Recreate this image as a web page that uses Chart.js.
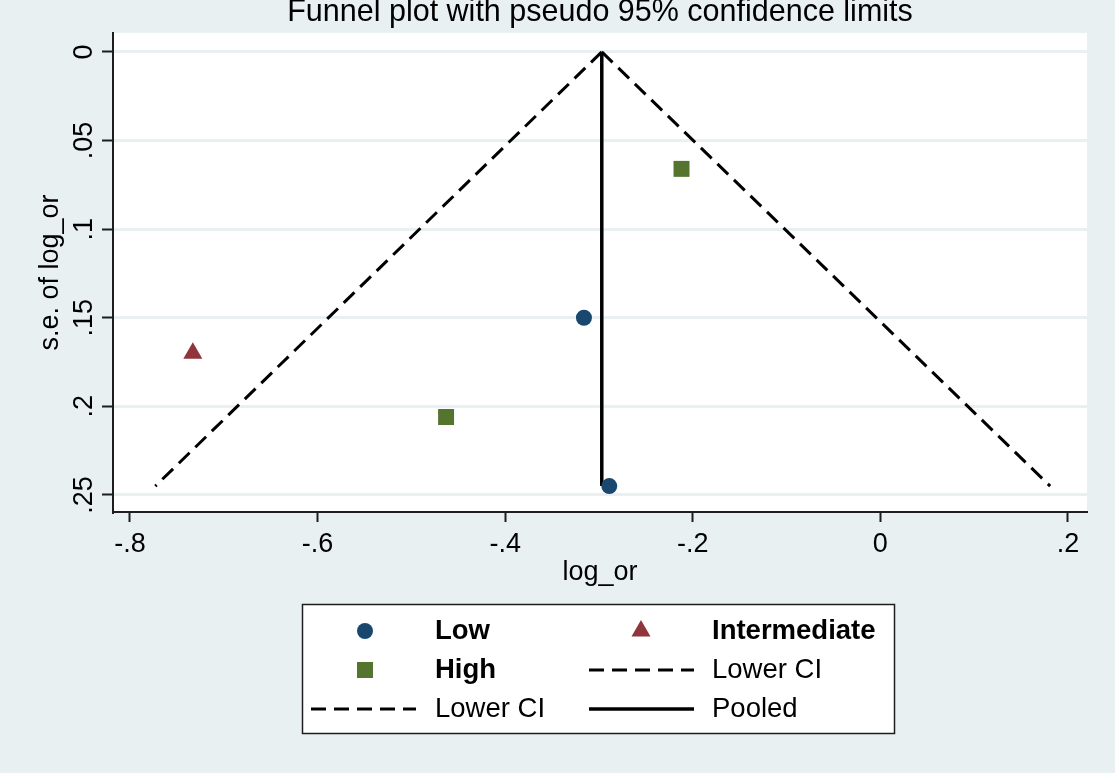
<!DOCTYPE html>
<html>
<head>
<meta charset="utf-8">
<script src="https://cdn.jsdelivr.net/npm/chart.js@4/dist/chart.umd.min.js"></script>
<style>
  html, body { margin: 0; padding: 0; background: #e9f0f1; }
  canvas { display: block; }
</style>
</head>
<body>
<canvas id="c" width="1115" height="773"></canvas>
<script>
// ---- Data ----
const lowX = [-0.316, -0.289];
const lowSE = [0.150, 0.245];
const intermediateX = [-0.733];
const intermediateSE = [0.170];
const highX = [-0.463, -0.212];
const highSE = [0.206, 0.066];
const funnelSE = [0, 0.245];
const lowerCIX = [-0.297, -0.773];
const upperCIX = [-0.297, 0.181];
const pooledX = [-0.297, -0.297];
const xTickValues = [-0.8, -0.6, -0.4, -0.2, 0, 0.2];
const yTickValues = [0, 0.05, 0.1, 0.15, 0.2, 0.25];
const seriesLabels = ['Low', 'Intermediate', 'High', 'Lower CI', 'Lower CI', 'Pooled'];

const FONT = "'Liberation Sans', Arial, Helvetica, sans-serif";
const BG = '#e9f0f1';
const AXIS = '#1e1e1e';

function pts(xs, ys) { return xs.map((x, i) => ({ x: x, y: ys[i] })); }
function stataFmt(v) {
  if (Math.abs(v) < 1e-9) return '0';
  let s = String(+v.toFixed(3));
  return s.replace(/^(-?)0\./, '$1.');
}

const bgPlugin = {
  id: 'bg',
  beforeDraw(chart) {
    const { ctx, chartArea: a } = chart;
    ctx.save();
    ctx.fillStyle = BG;
    ctx.fillRect(0, 0, chart.width, chart.height);
    ctx.fillStyle = '#ffffff';
    ctx.fillRect(a.left, a.top, a.right - a.left, a.bottom - a.top);
    ctx.restore();
  }
};

const yLabelPlugin = {
  id: 'yRotLabels',
  afterDraw(chart) {
    const { ctx } = chart;
    const ys = chart.scales.y;
    ctx.save();
    ctx.fillStyle = '#000';
    ctx.font = '27px ' + FONT;
    ctx.textAlign = 'center';
    ctx.textBaseline = 'middle';
    ys.ticks.forEach(t => {
      const py = ys.getPixelForValue(t.value);
      ctx.save();
      ctx.translate(85, py);
      ctx.rotate(-Math.PI / 2);
      ctx.fillText(stataFmt(t.value), 0, 0);
      ctx.restore();
    });
    ctx.restore();
  }
};

function drawMarker(ctx, style, x, y, r, color) {
  ctx.fillStyle = color;
  ctx.beginPath();
  if (style === 'circle') {
    ctx.arc(x, y, r, 0, Math.PI * 2);
  } else if (style === 'triangle') {
    for (let k = 0; k < 3; k++) {
      const ang = k * 2 * Math.PI / 3;
      const px = x + Math.sin(ang) * r, py = y - Math.cos(ang) * r;
      if (k === 0) ctx.moveTo(px, py); else ctx.lineTo(px, py);
    }
    ctx.closePath();
  } else {
    const s = r * Math.SQRT1_2;
    ctx.rect(x - s, y - s, 2 * s, 2 * s);
  }
  ctx.fill();
}

const legendPlugin = {
  id: 'stataLegend',
  afterDraw(chart) {
    const ctx = chart.ctx;
    ctx.save();
    ctx.fillStyle = '#ffffff';
    ctx.fillRect(302, 604, 593, 130);
    ctx.strokeStyle = AXIS;
    ctx.lineWidth = 1.5;
    ctx.strokeRect(302.5, 604.5, 592, 129);
    const cols = [
      { marker: 365, line: [311, 416], text: 435 },
      { marker: 641, line: [589, 694], text: 712 }
    ];
    const rows = [631, 670, 709];
    chart.data.datasets.forEach((ds, i) => {
      const c = cols[i % 2];
      const y = rows[Math.floor(i / 2)];
      if (ds.showLine) {
        ctx.save();
        ctx.strokeStyle = ds.borderColor;
        ctx.lineWidth = ds.borderWidth;
        ctx.setLineDash(ds.borderDash || []);
        ctx.beginPath();
        ctx.moveTo(c.line[0], y);
        ctx.lineTo(c.line[1], y);
        ctx.stroke();
        ctx.restore();
      } else {
        drawMarker(ctx, ds.pointStyle, c.marker, y, ds.pointRadius, ds.backgroundColor);
      }
      ctx.fillStyle = '#000';
      ctx.font = (ds.showLine ? '' : 'bold ') + '27.5px ' + FONT;
      ctx.textAlign = 'left';
      ctx.textBaseline = 'middle';
      ctx.fillText(ds.label, c.text, y);
    });
    ctx.restore();
  }
};

const lineDS = (label, xs, dash, width) => ({
  label: label,
  data: pts(xs, funnelSE),
  showLine: true,
  borderColor: '#000',
  backgroundColor: '#000',
  borderWidth: width,
  borderDash: dash,
  pointRadius: 0,
  pointHoverRadius: 0,
  fill: false
});

new Chart(document.getElementById('c'), {
  type: 'scatter',
  data: {
    datasets: [
      { label: seriesLabels[0], data: pts(lowX, lowSE), pointStyle: 'circle', pointRadius: 8,
        backgroundColor: '#1a476f', borderColor: '#1a476f', borderWidth: 0, showLine: false },
      { label: seriesLabels[1], data: pts(intermediateX, intermediateSE), pointStyle: 'triangle', pointRadius: 11,
        backgroundColor: '#90353b', borderColor: '#90353b', borderWidth: 0, showLine: false },
      { label: seriesLabels[2], data: pts(highX, highSE), pointStyle: 'rect', pointRadius: 11.3,
        backgroundColor: '#55752f', borderColor: '#55752f', borderWidth: 0, showLine: false },
      lineDS(seriesLabels[3], upperCIX, [15, 8], 3),
      lineDS(seriesLabels[4], lowerCIX, [15, 8], 3),
      lineDS(seriesLabels[5], pooledX, [], 3.5)
    ]
  },
  options: {
    responsive: false,
    devicePixelRatio: 1,
    animation: false,
    layout: { padding: { left: 0, right: 28, top: 0, bottom: 181 } },
    plugins: {
      legend: { display: false },
      tooltip: { enabled: false },
      title: {
        display: true,
        fullSize: false,
        text: 'Funnel plot with pseudo 95% confidence limits',
        color: '#000',
        font: { family: FONT, size: 30.5, weight: 'normal', lineHeight: 0.85 },
        padding: { top: 0, bottom: 7 }
      }
    },
    scales: {
      x: {
        type: 'linear',
        position: 'bottom',
        min: -0.8181,
        max: 0.2203,
        afterBuildTicks: s => { s.ticks = xTickValues.map(v => ({ value: v })); },
        afterFit: s => { s.height = 80; },
        ticks: {
          callback: v => stataFmt(v),
          color: '#000',
          font: { family: FONT, size: 27 },
          padding: 6,
          maxRotation: 0,
          minRotation: 0,
          autoSkip: false
        },
        grid: { drawOnChartArea: false, drawTicks: true, tickLength: 10, tickColor: AXIS, tickWidth: 2 },
        border: { display: true, color: AXIS, width: 2 },
        title: {
          display: true, text: 'log_or', color: '#000',
          font: { family: FONT, size: 27 },
          padding: { top: 0, bottom: 3 }
        }
      },
      y: {
        type: 'linear',
        position: 'left',
        reverse: true,
        min: -0.0107,
        max: 0.2596,
        afterBuildTicks: s => { s.ticks = yTickValues.map(v => ({ value: v })); },
        afterFit: s => { s.width = 113; },
        ticks: { display: false },
        grid: { color: BG, lineWidth: 3, drawTicks: true, tickLength: 11, tickColor: AXIS, tickWidth: 2 },
        border: { display: true, color: AXIS, width: 2 },
        title: {
          display: true, text: 's.e. of log_or', color: '#000',
          font: { family: FONT, size: 27 },
          padding: { top: 34, bottom: 0 }
        }
      }
    }
  },
  plugins: [bgPlugin, yLabelPlugin, legendPlugin]
});
</script>
</body>
</html>
